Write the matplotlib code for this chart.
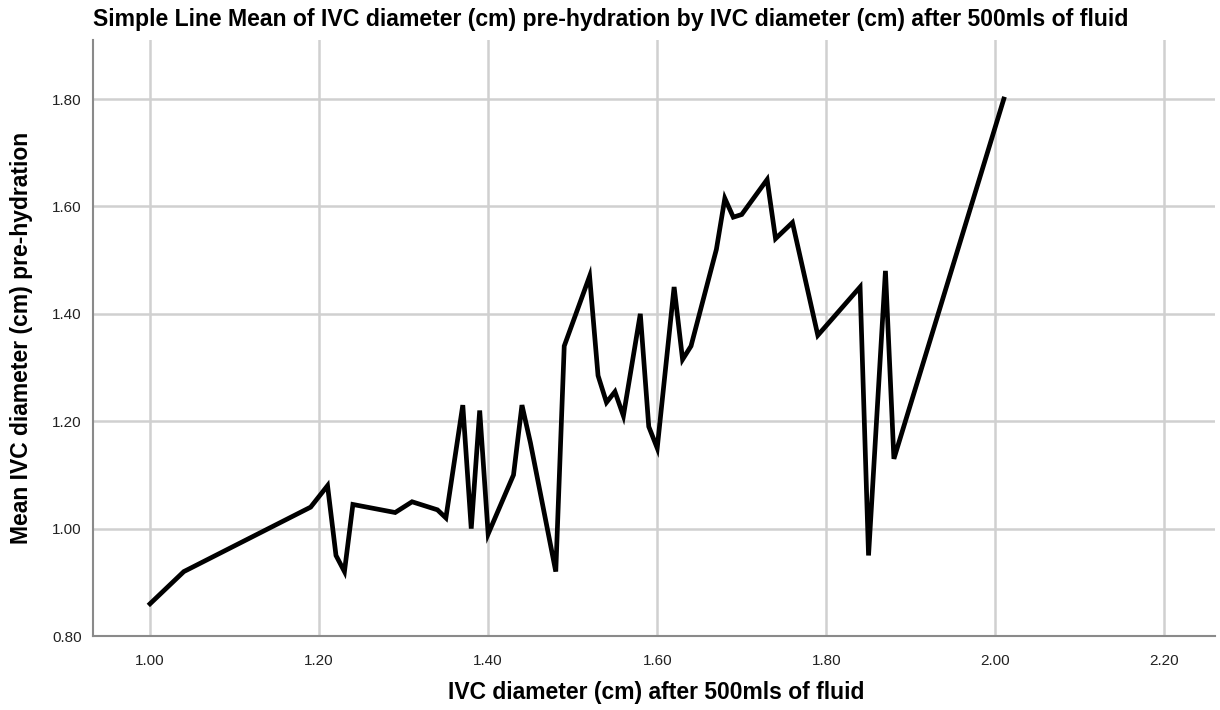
import matplotlib.pyplot as plt

plt.rcParams['font.family'] = ['Liberation Sans', 'DejaVu Sans']

# IVC diameter after 500mls of fluid (x) vs mean IVC diameter pre-hydration (y)
ivc_after = [1.00, 1.04, 1.19, 1.21, 1.22, 1.23, 1.24, 1.29, 1.31, 1.34, 1.35,
             1.37, 1.38, 1.39, 1.40, 1.43, 1.44, 1.45, 1.48, 1.49, 1.52, 1.53,
             1.54, 1.55, 1.56, 1.58, 1.59, 1.60, 1.62, 1.63, 1.64, 1.67, 1.68,
             1.69, 1.70, 1.73, 1.74, 1.76, 1.79, 1.84, 1.85, 1.87, 1.88, 2.01]
mean_pre = [0.86, 0.92, 1.04, 1.08, 0.95, 0.92, 1.045, 1.03, 1.05, 1.035, 1.02,
            1.23, 1.00, 1.22, 0.99, 1.10, 1.23, 1.16, 0.92, 1.34, 1.47, 1.285,
            1.235, 1.255, 1.21, 1.40, 1.19, 1.15, 1.45, 1.315, 1.34, 1.52, 1.615,
            1.58, 1.585, 1.65, 1.54, 1.57, 1.36, 1.45, 0.95, 1.48, 1.13, 1.80]

x_ticks = [1.00, 1.20, 1.40, 1.60, 1.80, 2.00, 2.20]
y_ticks = [0.80, 1.00, 1.20, 1.40, 1.60, 1.80]

def main():
    fig = plt.figure(figsize=(12.2, 7.1), dpi=100)
    ax = fig.add_axes([0.0762, 0.1042, 0.9198, 0.8395])

    ax.plot(ivc_after, mean_pre, color='black', lw=3.4, solid_joinstyle='miter', zorder=3)

    ax.set_xlim(0.9325, 2.26)
    ax.set_ylim(0.80, 1.91)
    ax.set_xticks(x_ticks)
    ax.set_xticklabels([f'{v:.2f}' for v in x_ticks])
    ax.set_yticks(y_ticks)
    ax.set_yticklabels([f'{v:.2f}' for v in y_ticks])
    ax.tick_params(length=0, labelsize=11, colors='#222222')
    ax.tick_params(axis='x', pad=13)
    ax.tick_params(axis='y', pad=8)

    ax.grid(True, color='#d0d0d0', lw=1.8, zorder=0)
    ax.set_axisbelow(True)
    for s in ['top', 'right']:
        ax.spines[s].set_visible(False)
    for s in ['left', 'bottom']:
        ax.spines[s].set_color('#8a8a8a')
        ax.spines[s].set_linewidth(1.5)

    ax.set_title('Simple Line Mean of IVC diameter (cm) pre-hydration by IVC diameter (cm) after 500mls of fluid',
                 fontsize=16.6, fontweight='bold', loc='left', x=0.0, pad=10)
    ax.set_xlabel('IVC diameter (cm) after 500mls of fluid', fontsize=16.5, fontweight='bold', va='center')
    ax.xaxis.set_label_coords(0.502, -0.0956)
    ax.set_ylabel('Mean IVC diameter (cm) pre-hydration', fontsize=16.5, fontweight='bold', va='center')
    ax.yaxis.set_label_coords(-0.0633, 0.5)

    plt.savefig('out.png', dpi=100)

if __name__ == '__main__':
    main()
